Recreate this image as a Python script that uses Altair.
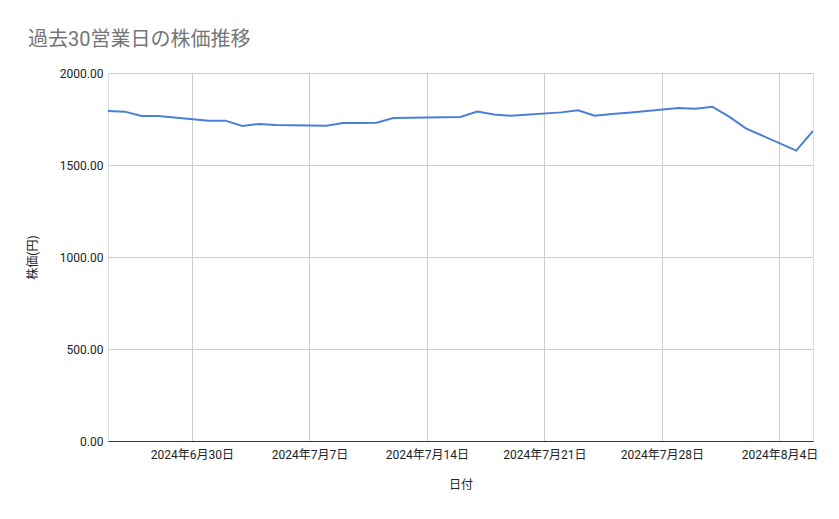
import altair as alt
import pandas as pd

dates = [
    "2024-06-25", "2024-06-26", "2024-06-27", "2024-06-28",
    "2024-07-01", "2024-07-02", "2024-07-03", "2024-07-04", "2024-07-05",
    "2024-07-08", "2024-07-09", "2024-07-10", "2024-07-11", "2024-07-12",
    "2024-07-15", "2024-07-16", "2024-07-17", "2024-07-18", "2024-07-19",
    "2024-07-22", "2024-07-23", "2024-07-24", "2024-07-25", "2024-07-26",
    "2024-07-29", "2024-07-30", "2024-07-31", "2024-08-01", "2024-08-02",
    "2024-08-05", "2024-08-06",
]
prices = [
    1793, 1790, 1766, 1766,
    1741, 1741, 1712, 1723, 1717,
    1713, 1728, 1728, 1730, 1755,
    1760, 1761, 1790, 1774, 1768,
    1786, 1797, 1768, 1777, 1784,
    1810, 1806, 1817, 1763, 1699,
    1578, 1685,
]

df = pd.DataFrame({"日付": [d + "T00:00:00" for d in dates], "株価": prices})

FONT = "Roboto, 'Noto Sans CJK JP', sans-serif"

chart = (
    alt.Chart(df)
    .mark_line(color="#4a7fd6", strokeWidth=2, clip=True)
    .encode(
        x=alt.X(
            "日付:T",
            title="日付",
            scale=alt.Scale(
                domain=[
                    alt.DateTime(year=2024, month=6, date=25),
                    alt.DateTime(year=2024, month=8, date=6),
                ],
                nice=False,
            ),
            axis=alt.Axis(
                format="%Y年%-m月%-d日",
                tickCount={"interval": "week", "step": 1},
                grid=True,
                gridColor="#cccccc",
                domain=True,
                domainColor="#333333",
                domainWidth=1,
                ticks=False,
                labelPadding=8,
                labelFontSize=12,
                labelColor="#222222",
                labelFont=FONT,
                titleFont=FONT,
                titleFontSize=12,
                titleFontWeight="normal",
                titleColor="#222222",
                titlePadding=19,
                labelOverlap=False,
                labelFlush=False,
            ),
        ),
        y=alt.Y(
            "株価:Q",
            title="株価(円)",
            scale=alt.Scale(domain=[0, 2000], nice=False),
            axis=alt.Axis(
                values=[0, 500, 1000, 1500, 2000],
                format=".2f",
                grid=True,
                gridColor="#cccccc",
                domain=False,
                ticks=False,
                labelPadding=5,
                labelFontSize=12,
                labelColor="#222222",
                labelFont=FONT,
                titleFont=FONT,
                titleFontSize=12,
                titleFontWeight="normal",
                titleColor="#222222",
                titlePadding=20,
            ),
        ),
    )
    .properties(
        width=705,
        height=368,
        title=alt.TitleParams(
            text="過去30営業日の株価推移",
            anchor="start",
            frame="group",
            dx=-80,
            offset=17,
            fontSize=20,
            fontWeight="normal",
            color="#757575",
            font=FONT,
        ),
        autosize=alt.AutoSizeParams(type="none"),
        padding={"left": 100, "top": 65, "right": 18, "bottom": 70},
    )
    .configure_view(stroke=None)
    .configure(background="white")
)

chart.save("out.html", embed_options={"renderer": "svg", "actions": False})
